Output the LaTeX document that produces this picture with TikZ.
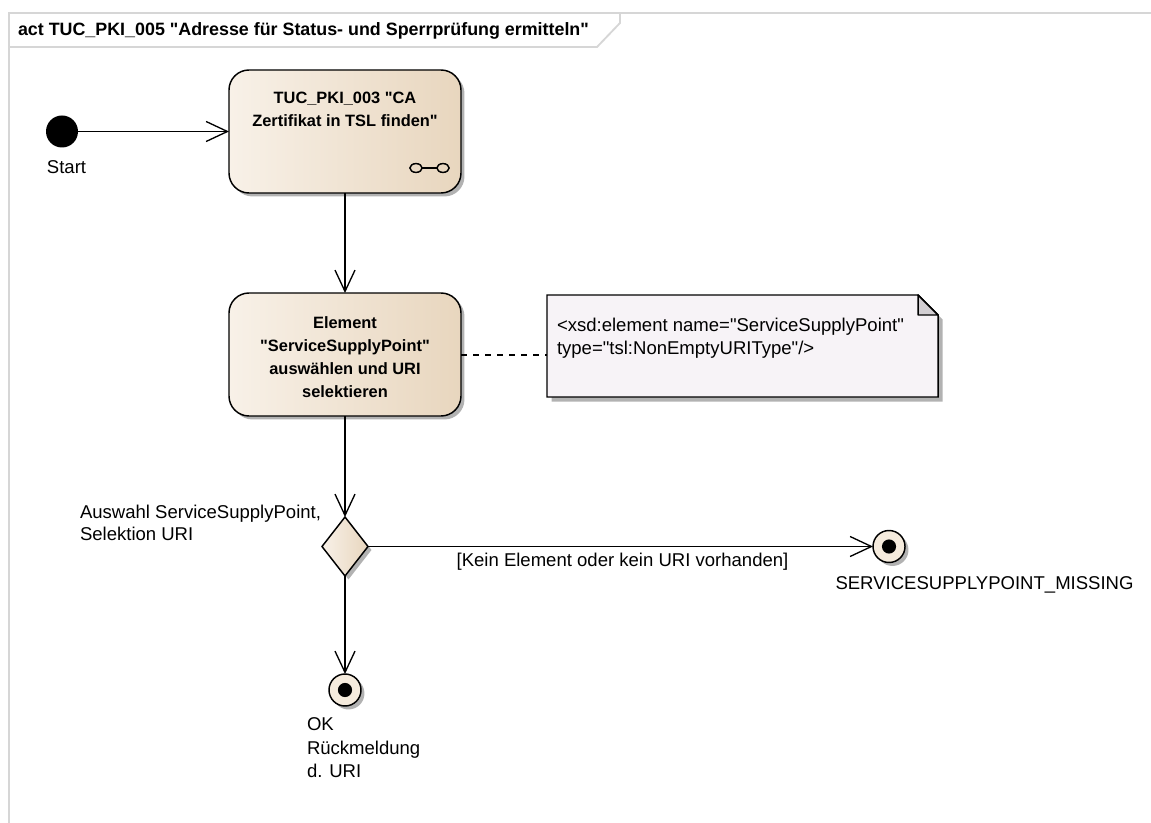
\documentclass[tikz,border=0pt]{standalone}
\usepackage{fontspec}
\setmainfont{Liberation Sans}[Ligatures=TeXOff]
\usetikzlibrary{arrows.meta,shapes.geometric,shadows,calc}
\definecolor{actL}{HTML}{F8F1E8}
\definecolor{actR}{HTML}{E8D6BE}
\definecolor{finfill}{HTML}{F5EBDD}
\definecolor{notefill}{HTML}{F7F3F7}
\definecolor{foldfill}{HTML}{D2CED2}
\definecolor{framegray}{HTML}{D6D6D6}
\newcommand{\qq}{\char34\relax}
\begin{document}
\begin{tikzpicture}[x=0.75pt,y=-0.75pt,
  every node/.style={inner sep=0pt,outer sep=0pt},
  frameline/.style={draw=framegray,line width=1.4pt},
  shadowed/.style={drop shadow={shadow xshift=2.6pt,shadow yshift=-2.6pt,opacity=0.3,fill=black}},
  action/.style={draw=black,line width=1.1pt,rounded corners=15pt,left color=actL,right color=actR,
     shadowed,minimum width=174pt,minimum height=92.25pt},
  acttext/.style={font=\bfseries\fontsize{12.3pt}{17.25pt}\selectfont,align=center},
  plain/.style={font=\fontsize{13.9pt}{17.5pt}\selectfont},
  decision/.style={diamond,draw=black,line width=1.1pt,left color=actL,right color=actR,shadowed,
     minimum width=34.5pt,minimum height=44.25pt},
  initial/.style={circle,fill=black,minimum size=24pt},
  final/.style={circle,draw=black,line width=1.1pt,fill=finfill,shadowed,minimum size=24pt},
  flow/.style={draw=black,line width=1pt,-{Straight Barb[length=16pt,width=15pt,line width=1pt]}},
  notebox/.style={minimum width=293.25pt,minimum height=76.5pt}
]
\useasboundingbox (0,0) rectangle (1151,823);
% frame
\draw[frameline] (1152,13) -- (9,13) -- (9,824);
\draw[frameline] (9,47) -- (597,47) -- (620,23) -- (620,13);
\node[anchor=west,font=\bfseries\fontsize{13.4pt}{15pt}\selectfont] (title) at (18,30.5)
  {act TUC\_PKI\_005 \qq{}Adresse für Status- und Sperrprüfung ermitteln\qq};

% nodes
\node[initial] (start) at (62,131.5) {};
\node[plain] (startlbl) at (66.5,167) {Start};

\node[action] (act1) at (345,131.5) {};
\node[acttext] (act1txt) at (345,109) {TUC\_PKI\_003 \qq{}CA\\Zertifikat in TSL finden\qq};
\draw[line width=1.1pt] (416,168) ellipse (4.6pt and 3.3pt);
\draw[line width=1.1pt] (443,168) ellipse (4.6pt and 3.3pt);
\draw[line width=1.1pt] (422.1,168) -- (436.9,168);

\node[action] (act2) at (345,354.5) {};
\node[acttext] (act2txt) at (345,357.5) {Element\\\qq{}ServiceSupplyPoint\qq\\auswählen und URI\\selektieren};

\node[notebox] (note) at (742.5,346) {};
\fill[black,opacity=0.3] ([shift={(3.5pt,-3.5pt)}]note.north west) -- ([shift={(-15pt+3.5pt,-3.5pt)}]note.north east)
  -- ([shift={(3.5pt,-15pt-3.5pt)}]note.north east) -- ([shift={(3.5pt,-3.5pt)}]note.south east) -- ([shift={(3.5pt,-3.5pt)}]note.south west) -- cycle;
\draw[line width=1.1pt,fill=notefill] (note.north west) -- ([xshift=-15pt]note.north east)
  -- ([yshift=-15pt]note.north east) -- (note.south east) -- (note.south west) -- cycle;
\draw[line width=1.1pt,fill=foldfill,line join=round] ([xshift=-15pt]note.north east) -- ([xshift=-15pt,yshift=-15pt]note.north east)
  -- ([yshift=-15pt]note.north east) -- cycle;
\node[plain,anchor=west,align=left] (notetxt) at (557,338.5)
  {<xsd:element name=\qq{}ServiceSupplyPoint\qq\\type=\qq{}tsl:NonEmptyURIType\qq/>};

\node[decision] (dec) at (345,546.5) {};
\node[plain,anchor=west,align=left,font=\fontsize{13.9pt}{16.5pt}\selectfont] (declbl) at (80,523)
  {Auswahl ServiceSupplyPoint,\\Selektion URI};

\node[final] (fin1) at (889,546.5) {};
\fill[black] (fin1.center) circle (5.3pt);
\node[plain] (fin1lbl) at (984.5,585) {SERVICESUPPLYPOINT\_MISSING};

\node[final] (fin2) at (345,690) {};
\fill[black] (fin2.center) circle (5.3pt);
\node[plain,anchor=north west,align=left] (fin2lbl) at (307,718)
  {OK\\Rückmeldung\\d. URI};

% connectors
\draw[flow] (start) -- (act1);
\draw[flow] (act1) -- (act2);
\draw[flow] (act2) -- (dec);
\draw[flow] (dec) -- (fin1);
\node[plain] (guard) at (622.5,562) {[Kein Element oder kein URI vorhanden]};
\draw[flow] (dec) -- (fin2);
\draw[line width=1pt,dash pattern=on 4.5pt off 4.5pt] (act2.east |- 0,355) -- (note.west |- 0,355);
\end{tikzpicture}
\end{document}
